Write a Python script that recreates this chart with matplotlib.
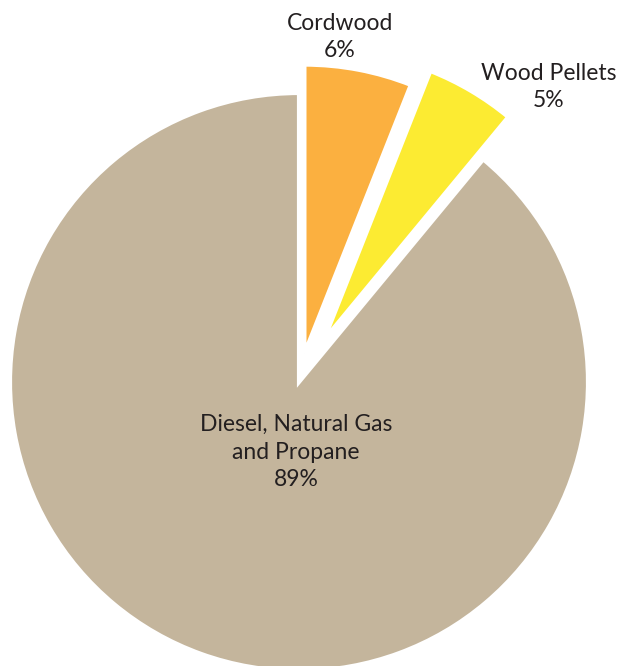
import matplotlib
matplotlib.use('Agg')
import matplotlib.pyplot as plt

labels = ['Cordwood', 'Wood Pellets', 'Diesel, Natural Gas\nand Propane']
shares = [6, 5, 89]
colors = ['#FBB040', '#FCEB32', '#C4B59C']
explode = [0.1, 0.17, 0.0]

plt.rcParams['font.family'] = ['Lato', 'DejaVu Sans']

W, H = 620, 666
cx, cy, R = 299, 382, 289

fig = plt.figure(figsize=(W / 100, H / 100), dpi=100)
ax = fig.add_axes([0, 0, 1, 1])

ax.pie(shares, colors=colors, explode=explode, startangle=90, counterclock=False,
       wedgeprops=dict(edgecolor='white', linewidth=3))

# map axes so that 1 data unit == R pixels, with the pie centre at (cx, cy)
ax.set_xlim(-cx / R, (W - cx) / R)
ax.set_ylim(-(H - cy) / R, cy / R)
ax.set_aspect('auto')
ax.axis('off')

def px(x, y):
    return (x - cx) / R, (cy - y) / R

text_pos = [(340, 37), (549, 87), (296, 452)]
for lab, val, (x, y) in zip(labels, shares, text_pos):
    tx, ty = px(x, y)
    ax.text(tx, ty, f'{lab}\n{val}%', ha='center', va='center', fontsize=16.5,
            color='#231F20', linespacing=1.4)

fig.savefig('out.png', dpi=100, facecolor='white')
